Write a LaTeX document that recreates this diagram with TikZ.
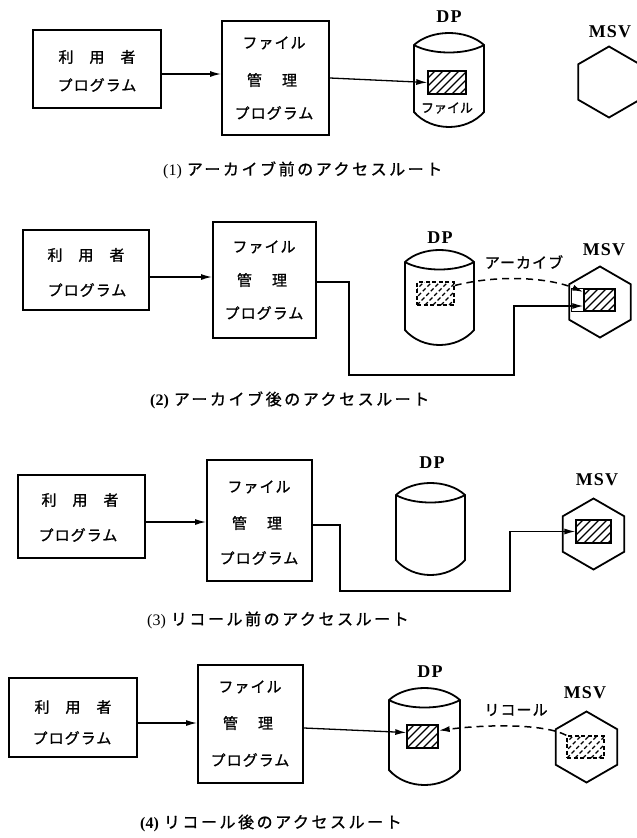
\documentclass[tikz,border=0pt]{standalone}
\usepackage{fontspec}
\usetikzlibrary{shapes.geometric,arrows.meta,calc}
\newfontfamily\jp{Noto Sans CJK JP}[LetterSpace=7,FakeBold=1]
\newfontfamily\jpsm{Noto Sans CJK JP}[FakeBold=1]
\newfontfamily\jpcap{Noto Sans CJK JP}[LetterSpace=16,FakeBold=1]
\newfontfamily\lab{Liberation Serif}[LetterSpace=6]
\newfontfamily\labplain{Liberation Serif}
\newcommand\dpcyl[5]{%
  \draw[cylst] (#2-#5,#3) .. controls (#2-0.5*#5,#3-16) and (#2+0.5*#5,#3-16) .. (#2+#5,#3)
     -- (#2+#5,#4) .. controls (#2+0.5*#5,#4+20) and (#2-0.5*#5,#4+20) .. (#2-#5,#4) -- cycle;
  \draw[cylst] (#2-#5,#3) .. controls (#2-0.5*#5,#3+10) and (#2+0.5*#5,#3+10) .. (#2+#5,#3);
  \node[inner sep=0, minimum width=2*#5, minimum height=#4-#3] (#1) at (#2,{(#3+#4)/2}) {};
}
\begin{document}
\begin{tikzpicture}[x=1pt,y=-1pt,
  box/.style={draw, line width=2pt, inner sep=0},
  txt/.style={font=\jp\fontsize{15}{17}\selectfont, inner sep=0},
  small/.style={font=\jpsm\fontsize{13}{15}\selectfont, inner sep=0},
  captxt/.style={font=\jpcap\fontsize{16}{18}\selectfont, inner sep=0, anchor=west},
  lbl/.style={font=\lab\bfseries\fontsize{18}{20}\selectfont, inner sep=0},
  hex/.style={draw, regular polygon, regular polygon sides=6, shape border rotate=30,
              minimum size=71pt, inner sep=0, line width=1.8pt},
  cylst/.style={line width=1.8pt},
  hatchfill/.style={path picture={\foreach \k in {-6,...,5}{\draw[line width=1.2pt,#1]
      ([xshift=\k*8pt]path picture bounding box.south west) -- ++(45pt,45pt);}}},
  hatchfill/.default=solid,
  fl/.style={draw, line width=1.4pt, inner sep=0, hatchfill},
  dfl/.style={draw, line width=1.4pt, inner sep=0, dash pattern=on 4pt off 2.5pt,
              hatchfill={dash pattern=on 4pt off 2.5pt}},
  conn/.style={line width=1.3pt, -{Latex[length=11pt,width=6pt]}},
  dconn/.style={line width=1.5pt, dash pattern=on 7pt off 5pt, -{Latex[length=11pt,width=6pt]}}
]
\useasboundingbox (0,0) rectangle (637,838);
\clip (0,0) rectangle (637,838);

% ---------- Panel 1 ----------
\node[box, minimum width=128pt, minimum height=78pt] (u1) at (97,69) {};
\node[txt] (u1a) at (97,57) {利\hskip16pt 用\hskip16pt 者};
\node[txt] (u1b) at (97,85) {プログラム};
\node[box, minimum width=107pt, minimum height=114pt] (f1) at (275.5,78) {};
\node[txt] (f1a) at (274,43) {ファイル};
\node[txt] (f1b) at (272,80) {管\hskip20pt 理};
\node[txt] (f1c) at (274,113) {プログラム};
\dpcyl{d1}{449}{45}{112}{35}
\node[lbl] (dp1) at (449,17) {DP};
\node[fl, minimum width=38pt, minimum height=23pt] (r1) at (447,82.5) {};
\node[small] (r1t) at (447,108) {ファイル};
\node[lbl] (msv1) at (610,32) {MSV};
\node[hex] (h1) at (609,82) {};
\coordinate (a1) at ([yshift=-5pt]u1.east);
\draw[conn] (a1) -- (a1 -| f1.west);
\draw[conn] (f1.east) -- (r1.west);
\node[captxt] (c1) at (163,170) {{\labplain (1)}\hskip5pt アーカイブ前のアクセスルート};

% ---------- Panel 2 ----------
\node[box, minimum width=126pt, minimum height=80pt] (u2) at (86,270) {};
\node[txt] (u2a) at (86,255) {利\hskip16pt 用\hskip16pt 者};
\node[txt] (u2b) at (87,290) {プログラム};
\node[box, minimum width=103pt, minimum height=116pt] (f2) at (264.5,280) {};
\node[txt] (f2a) at (264,247) {ファイル};
\node[txt] (f2b) at (262,280) {管\hskip20pt 理};
\node[txt] (f2c) at (264,313) {プログラム};
\dpcyl{d2}{439.5}{262}{330}{34.5}
\node[lbl] (dp2) at (440,238) {DP};
\node[dfl, minimum width=37pt, minimum height=23pt] (r2) at (435.5,293.5) {};
\node[lbl] (msv2) at (604,250) {MSV};
\node[hex] (h2) at (600,302) {};
\node[fl, minimum width=31pt, minimum height=22pt] (m2) at (599.5,300) {};
\draw[line width=1.4pt] (m2.north west) -- ++(-12pt,0) |- (m2.south west);
\coordinate (a2) at ([yshift=-7pt]u2.east);
\draw[conn] (a2) -- (a2 -| f2.west);
\coordinate (m2s) at ([yshift=-6pt]m2.west);
\coordinate (m2d) at ([yshift=8pt]m2.west);
\draw[conn] ([yshift=-2pt]f2.east) -| (349,375) -- (514,375) |- (m2s);
\draw[dconn] ([yshift=8pt]r2.east) .. controls (500,274) and (550,278) .. (m2d);
\node[txt] (arc) at (524,262) {アーカイブ};
\node[captxt] (c2) at (150,400) {{\labplain\bfseries (2)}\hskip5pt アーカイブ後のアクセスルート};

% ---------- Panel 3 ----------
\node[box, minimum width=127pt, minimum height=83pt] (u3) at (81.5,516.5) {};
\node[txt] (u3a) at (80,500) {利\hskip16pt 用\hskip16pt 者};
\node[txt] (u3b) at (78,535) {プログラム};
\node[box, minimum width=105pt, minimum height=121pt] (f3) at (259.5,520.5) {};
\node[txt] (f3a) at (259,487) {ファイル};
\node[txt] (f3b) at (257,523) {管\hskip20pt 理};
\node[txt] (f3c) at (259,558) {プログラム};
\dpcyl{d3}{430.5}{495}{560}{34.5}
\node[lbl] (dp3) at (432,463) {DP};
\node[lbl] (msv3) at (597,480) {MSV};
\node[hex] (h3) at (593.5,534) {};
\node[fl, minimum width=35pt, minimum height=23pt] (m3) at (593.5,531.5) {};
\coordinate (a3) at ([yshift=-5.5pt]u3.east);
\draw[conn] (a3) -- (a3 -| f3.west);
\draw[conn] ([yshift=-4.5pt]f3.east) -| (340,591) -- (510,591) |- (m3.west);
\node[captxt] (c3) at (147,620) {{\labplain (3)}\hskip5pt リコール前のアクセスルート};

% ---------- Panel 4 ----------
\node[box, minimum width=128pt, minimum height=79pt] (u4) at (73,717.5) {};
\node[txt] (u4a) at (73,707) {利\hskip16pt 用\hskip16pt 者};
\node[txt] (u4b) at (72,738) {プログラム};
\node[box, minimum width=105pt, minimum height=118pt] (f4) at (250.5,724) {};
\node[txt] (f4a) at (250,687) {ファイル};
\node[txt] (f4b) at (248,723) {管\hskip20pt 理};
\node[txt] (f4c) at (250,760) {プログラム};
\dpcyl{d4}{424.5}{700}{770}{35.5}
\node[lbl] (dp4) at (430,672) {DP};
\node[fl, minimum width=31pt, minimum height=23pt] (r4) at (422.5,736.5) {};
\node[lbl] (msv4) at (585,693) {MSV};
\node[hex] (h4) at (586.5,747) {};
\node[dfl, minimum width=37pt, minimum height=22pt] (m4) at (585.5,747) {};
\coordinate (a4) at ([yshift=-5.5pt]u4.east);
\draw[conn] (a4) -- (a4 -| f4.west);
\draw[conn] ([yshift=-4pt]f4.east) -- ([yshift=4pt]r4.west);
\draw[dconn] (m4.north west) .. controls (545,724) and (490,724) .. ([yshift=6pt]r4.east);
\node[txt] (rec) at (516,710) {リコール};
\node[captxt] (c4) at (140,823) {{\labplain\bfseries (4)}\hskip5pt リコール後のアクセスルート};
\end{tikzpicture}
\end{document}
